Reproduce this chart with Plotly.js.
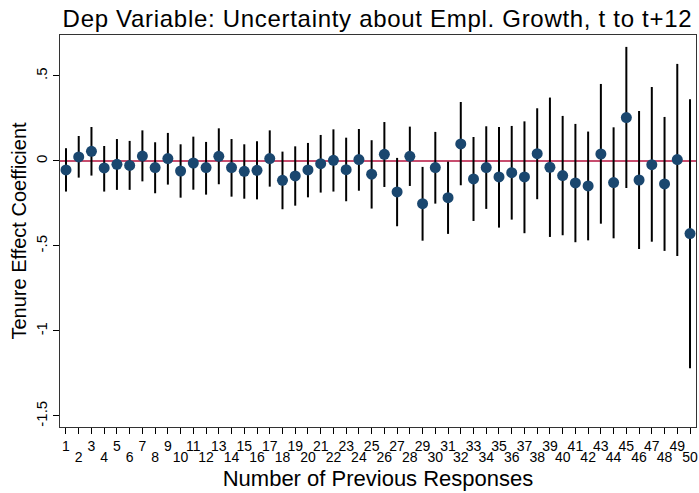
<!DOCTYPE html>
<html><head><meta charset="utf-8">
<script src="https://cdn.plot.ly/plotly-3.0.1.min.js"></script>
<style>html,body{margin:0;padding:0;background:#fff}#chart{width:699px;height:493px}
#chart .gtitle{letter-spacing:0.7px}</style>
</head><body><div id="chart"></div>
<script>
const responses = Array.from({length:50},(_, i)=>i+1);
const coef = [-0.053,0.024,0.057,-0.041,-0.020,-0.026,0.029,-0.039,0.014,-0.059,
  -0.012,-0.039,0.027,-0.039,-0.061,-0.055,0.014,-0.114,-0.088,-0.053,
  -0.016,0.004,-0.051,0.008,-0.078,0.039,-0.182,0.027,-0.251,-0.039,
  -0.216,0.100,-0.106,-0.039,-0.094,-0.069,-0.094,0.043,-0.037,-0.086,
  -0.129,-0.147,0.041,-0.127,0.255,-0.112,-0.022,-0.135,0.008,-0.427];
const ciHigh = [0.075,0.147,0.200,0.088,0.129,0.118,0.180,0.110,0.165,0.098,
  0.143,0.112,0.192,0.129,0.098,0.116,0.180,0.055,0.086,0.106,
  0.153,0.186,0.137,0.188,0.122,0.229,0.018,0.202,-0.035,0.171,
  -0.004,0.347,0.141,0.204,0.200,0.206,0.233,0.310,0.373,0.265,
  0.218,0.173,0.453,0.198,0.671,0.294,0.435,0.259,0.571,0.363];
const ciLow = [-0.180,-0.098,-0.086,-0.180,-0.170,-0.170,-0.120,-0.190,-0.139,-0.216,
  -0.169,-0.198,-0.137,-0.210,-0.222,-0.226,-0.151,-0.284,-0.263,-0.214,
  -0.186,-0.180,-0.237,-0.175,-0.280,-0.153,-0.384,-0.147,-0.469,-0.251,
  -0.429,-0.143,-0.353,-0.282,-0.392,-0.345,-0.425,-0.225,-0.447,-0.437,
  -0.478,-0.467,-0.369,-0.455,-0.159,-0.518,-0.475,-0.529,-0.559,-1.220];
const yTickVals = [0.5,0,-0.5,-1,-1.5];
const yTickText = ['.5','0','-.5','-1','-1.5'];
const oddTicks = responses.filter(n => n % 2 === 1);
const evenTicks = responses.filter(n => n % 2 === 0);

const trace = {
  x: responses, y: coef, type: 'scatter', mode: 'markers',
  marker: {color: '#1a476f', size: 11},
  error_y: {type: 'data', symmetric: false,
    array: coef.map((c,i)=>ciHigh[i]-c),
    arrayminus: coef.map((c,i)=>c-ciLow[i]),
    color: '#000', thickness: 2, width: 0},
  hoverinfo: 'none'
};
// invisible companion trace so the even-label axis is drawn
const evenAxisTrace = {
  x: responses, y: coef, type: 'scatter', mode: 'markers', xaxis: 'x2', yaxis: 'y',
  marker: {opacity: 0, size: 1}, hoverinfo: 'none', showlegend: false
};
const font = "'Liberation Sans', Arial, sans-serif";
const xRange = [0.53, 50.47];
const layout = {
  width: 699, height: 493,
  margin: {l: 60, r: 3, t: 35, b: 66},
  paper_bgcolor: '#fff', plot_bgcolor: '#fff',
  font: {family: font, color: '#000'},
  showlegend: false,
  title: {text: 'Dep Variable: Uncertainty about Empl. Growth, t to t+12',
    font: {size: 24, family: font, color: '#000'}, x: 0.540, xanchor: 'center', y: 0.962, yanchor: 'middle'},
  xaxis: {range: xRange, tickvals: oddTicks, ticktext: oddTicks.map(String), tickmode: 'array',
    ticks: 'outside', ticklen: 6, tickcolor: '#000', tickwidth: 1,
    showline: true, linecolor: '#333', linewidth: 1, mirror: true,
    showgrid: false, zeroline: false, tickangle: 0,
    tickfont: {size: 14, family: font, color: '#000'},
    title: {text: 'Number of Previous Responses', font: {size: 22, family: font, color: '#000'}, standoff: 17}},
  xaxis2: {range: xRange, overlaying: 'x', anchor: 'y', side: 'bottom',
    tickvals: evenTicks, ticktext: evenTicks.map(String), tickmode: 'array',
    ticks: 'outside', ticklen: 6, tickcolor: '#000', tickwidth: 1,
    ticklabelstandoff: 11,
    showline: false, showgrid: false, zeroline: false, tickangle: 0,
    tickfont: {size: 14, family: font, color: '#000'}},
  yaxis: {range: [-1.565, 0.741], tickvals: yTickVals, ticktext: yTickText, tickmode: 'array',
    ticks: 'outside', ticklen: 6, tickcolor: '#000', tickwidth: 1,
    showline: true, linecolor: '#333', linewidth: 1, mirror: true,
    showgrid: false, zeroline: false, tickangle: -90,
    tickfont: {size: 15, family: font, color: '#000'},
    title: {text: 'Tenure Effect Coefficient', font: {size: 20, family: font, color: '#000'}, standoff: 1}},
  shapes: [{type: 'line', xref: 'paper', x0: 0, x1: 1, yref: 'y', y0: 0, y1: 0,
    line: {color: '#b5123e', width: 1.5}, layer: 'below'}]
};
Plotly.newPlot('chart', [trace, evenAxisTrace], layout, {staticPlot: true, displayModeBar: false});
</script></body></html>
